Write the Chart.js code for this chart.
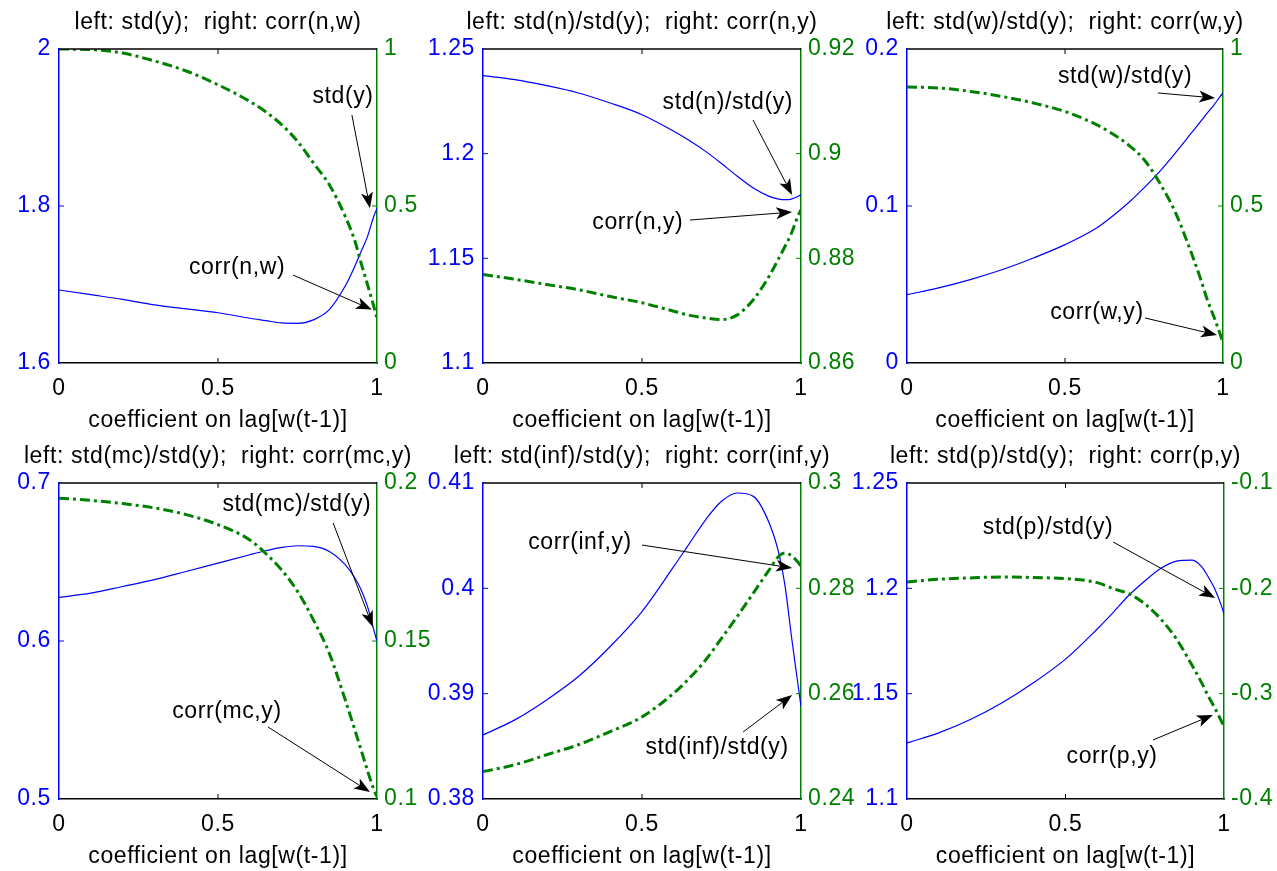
<!DOCTYPE html>
<html>
<head>
<meta charset="utf-8">
<script src="https://cdn.jsdelivr.net/npm/chart.js@4.4.0/dist/chart.umd.min.js"></script>
<style>
  body { margin: 0; background: #fff; }
  #wrap { position: relative; width: 1277px; height: 871px; }
  #wrap canvas { position: absolute; left: 0; top: 0; }
</style>
</head>
<body>
<div id="wrap"></div>
<script>
// coefficient on lag[w(t-1)]
const xs = [0, 0.1, 0.2, 0.3, 0.4, 0.5, 0.6, 0.65, 0.7, 0.75, 0.8, 0.85, 0.9, 0.93, 0.95, 0.97, 0.99, 1];
const xTicks = [0, 0.5, 1];

const stdY      = [1.693, 1.687, 1.681, 1.674, 1.669, 1.664, 1.657, 1.654, 1.651, 1.6505, 1.655, 1.668, 1.698, 1.723, 1.742, 1.761, 1.787, 1.797];
const corrNW    = [1.0, 0.998, 0.987, 0.962, 0.930, 0.886, 0.833, 0.800, 0.759, 0.706, 0.637, 0.568, 0.467, 0.390, 0.318, 0.250, 0.180, 0.143];
const stdNrel   = [1.2373, 1.2354, 1.2325, 1.229, 1.2242, 1.2186, 1.2107, 1.2062, 1.2011, 1.1953, 1.1892, 1.1836, 1.1796, 1.1783, 1.178, 1.1783, 1.1795, 1.1804];
const corrNY    = [0.8769, 0.8760, 0.8750, 0.8740, 0.8727, 0.8715, 0.8699, 0.8691, 0.8686, 0.8683, 0.8692, 0.8721, 0.8766, 0.8800, 0.8823, 0.8848, 0.8880, 0.8893];
const stdWrel   = [0.0435, 0.0478, 0.0531, 0.0594, 0.0669, 0.0754, 0.0860, 0.0935, 0.1019, 0.1115, 0.1221, 0.1340, 0.1465, 0.1540, 0.1592, 0.1640, 0.1695, 0.172];
const corrWY    = [0.879, 0.876, 0.865, 0.849, 0.828, 0.801, 0.759, 0.730, 0.695, 0.648, 0.573, 0.478, 0.350, 0.265, 0.202, 0.150, 0.095, 0.064];
const stdMCrel  = [0.6276, 0.6303, 0.6345, 0.6388, 0.6440, 0.6493, 0.6546, 0.6571, 0.6592, 0.6603, 0.6599, 0.6567, 0.6483, 0.6400, 0.6324, 0.6219, 0.6070, 0.5997];
const corrMCY   = [0.1952, 0.1945, 0.1935, 0.1921, 0.1900, 0.1868, 0.1820, 0.1777, 0.1725, 0.1657, 0.1567, 0.1461, 0.1314, 0.1220, 0.1155, 0.1090, 0.1030, 0.1007];
const stdINFrel = [0.38608, 0.38751, 0.38941, 0.39163, 0.39448, 0.3978, 0.40208, 0.4043, 0.40651, 0.40826, 0.40905, 0.40873, 0.4062, 0.40335, 0.40018, 0.39543, 0.39099, 0.38878];
const corrINFY  = [0.2452, 0.2465, 0.2484, 0.2503, 0.2528, 0.2556, 0.2601, 0.2630, 0.2664, 0.2705, 0.2747, 0.2791, 0.2835, 0.2861, 0.2867, 0.2862, 0.2850, 0.2842];
const stdPrel   = [1.1266, 1.1314, 1.1377, 1.1457, 1.1553, 1.1664, 1.1807, 1.1885, 1.1967, 1.2035, 1.2094, 1.2129, 1.2134, 1.2102, 1.2055, 1.2000, 1.1925, 1.1879];
const corrPY    = [-0.1939, -0.1914, -0.1901, -0.1892, -0.1898, -0.1908, -0.1946, -0.2003, -0.2051, -0.2147, -0.2290, -0.2481, -0.2736, -0.2900, -0.3022, -0.3130, -0.3250, -0.3309];

const BLUE = "#0000ff";
const GREEN = "#008000";
const FONT = "Liberation Sans, Arial, sans-serif";
const FS = 23;

Chart.defaults.font.family = FONT;
Chart.defaults.font.size = FS;

// plot boxes [left, right, top, bottom] in page pixels
const panels = [
  { title: "left: std(y);  right: corr(n,w)", left: stdY, right: corrNW,
    lTicks: [1.6, 1.8, 2], rTicks: [0, 0.5, 1], box: [59, 377, 49, 363],
    notes: [
      { text: "std(y)", at: [0.893, 1.939], from: [0.921, 1.916], to: [0.978, 1.797] },
      { text: "corr(n,w)", at: [0.560, 1.721], from: [0.736, 1.712], to: [0.984, 1.668] },
    ] },
  { title: "left: std(n)/std(y);  right: corr(n,y)", left: stdNrel, right: corrNY,
    lTicks: [1.1, 1.15, 1.2, 1.25], rTicks: [0.86, 0.88, 0.9, 0.92], box: [483, 801, 49, 363],
    notes: [
      { text: "std(n)/std(y)", at: [0.770, 1.2242], from: [0.849, 1.2161], to: [0.972, 1.1803] },
      { text: "corr(n,y)", at: [0.487, 1.1669], from: [0.651, 1.1683], to: [0.972, 1.1721] },
    ] },
  { title: "left: std(w)/std(y);  right: corr(w,y)", left: stdWrel, right: corrWY,
    lTicks: [0, 0.1, 0.2], rTicks: [0, 0.5, 1], box: [907, 1223, 49, 363],
    notes: [
      { text: "std(w)/std(y)", at: [0.690, 0.1822], from: [0.794, 0.1720], to: [0.975, 0.1688] },
      { text: "corr(w,y)", at: [0.601, 0.0318], from: [0.753, 0.0287], to: [0.981, 0.0178] },
    ] },
  { title: "left: std(mc)/std(y);  right: corr(mc,y)", left: stdMCrel, right: corrMCY,
    lTicks: [0.5, 0.6, 0.7], rTicks: [0.1, 0.15, 0.2], box: [59, 377, 483, 799],
    notes: [
      { text: "std(mc)/std(y)", at: [0.748, 0.6861], from: [0.862, 0.6747], to: [0.987, 0.6089] },
      { text: "corr(mc,y)", at: [0.528, 0.5551], from: [0.657, 0.5456], to: [0.978, 0.5044] },
    ] },
  { title: "left: std(inf)/std(y);  right: corr(inf,y)", left: stdINFrel, right: corrINFY,
    lTicks: [0.38, 0.39, 0.4, 0.41], rTicks: [0.24, 0.26, 0.28, 0.3], box: [483, 801, 483, 799],
    notes: [
      { text: "corr(inf,y)", at: [0.305, 0.4043], from: [0.5, 0.40411], to: [0.972, 0.40193] },
      { text: "std(inf)/std(y)", at: [0.736, 0.38484], from: [0.818, 0.38636], to: [0.972, 0.38987] },
    ] },
  { title: "left: std(p)/std(y);  right: corr(p,y)", left: stdPrel, right: corrPY,
    lTicks: [1.1, 1.15, 1.2, 1.25], rTicks: [-0.4, -0.3, -0.2, -0.1], box: [907, 1224, 483, 799],
    notes: [
      { text: "std(p)/std(y)", at: [0.445, 1.2286], from: [0.650, 1.2220], to: [0.972, 1.1954] },
      { text: "corr(p,y)", at: [0.647, 1.1199], from: [0.776, 1.128], to: [0.965, 1.1399] },
    ] },
];

const W = 1277, H = 871, AXW = 60, XAH = 72;

function fmt(v) {
  return String(+v.toFixed(4));
}

function drawArrow(ctx, x1, y1, x2, y2) {
  const a = Math.atan2(y2 - y1, x2 - x1);
  const hl = 16, hw = 6;
  const c = Math.cos(a), s = Math.sin(a);
  ctx.beginPath();
  ctx.moveTo(x1, y1);
  ctx.lineTo(x2 - hl * 0.7 * c, y2 - hl * 0.7 * s);
  ctx.stroke();
  ctx.beginPath();
  ctx.moveTo(x2, y2);
  ctx.lineTo(x2 - hl * c + hw * s, y2 - hl * s - hw * c);
  ctx.lineTo(x2 - hl * 0.75 * c, y2 - hl * 0.75 * s);
  ctx.lineTo(x2 - hl * c - hw * s, y2 - hl * s + hw * c);
  ctx.closePath();
  ctx.fill();
}

// box top line, inward ticks, title and arrow notes
const framePlugin = {
  id: "frame",
  beforeDraw(chart) {
    // the reference text is set a little looser than Liberation Sans
    chart.ctx.letterSpacing = "0.6px";
  },
  afterDraw(chart, args, opts) {
    const { ctx, chartArea: a, scales } = chart;
    const p = opts.panel;
    ctx.save();
    ctx.lineWidth = 1.5;
    ctx.strokeStyle = "#000";
    ctx.beginPath();
    ctx.moveTo(a.left, a.top);
    ctx.lineTo(a.right, a.top);
    ctx.stroke();

    const tl = 5;
    ctx.lineWidth = 1;
    xTicks.slice(1, -1).forEach(v => {
      const x = scales.x.getPixelForValue(v);
      ctx.beginPath();
      ctx.moveTo(x, a.bottom); ctx.lineTo(x, a.bottom - tl);
      ctx.moveTo(x, a.top); ctx.lineTo(x, a.top + tl);
      ctx.stroke();
    });
    ctx.strokeStyle = BLUE;
    p.lTicks.slice(1, -1).forEach(v => {
      const y = scales.yL.getPixelForValue(v);
      ctx.beginPath(); ctx.moveTo(a.left, y); ctx.lineTo(a.left + tl, y); ctx.stroke();
    });
    ctx.strokeStyle = GREEN;
    p.rTicks.slice(1, -1).forEach(v => {
      const y = scales.yR.getPixelForValue(v);
      ctx.beginPath(); ctx.moveTo(a.right, y); ctx.lineTo(a.right - tl, y); ctx.stroke();
    });

    ctx.fillStyle = "#000";
    ctx.font = FS + "px " + FONT;
    ctx.textAlign = "center";
    ctx.textBaseline = "middle";
    ctx.fillText(p.title, (a.left + a.right) / 2, a.top - 26);

    ctx.strokeStyle = "#000";
    ctx.lineWidth = 1;
    p.notes.forEach(n => {
      const px = v => scales.x.getPixelForValue(v);
      const py = v => scales.yL.getPixelForValue(v);
      ctx.fillText(n.text, px(n.at[0]), py(n.at[1]));
      drawArrow(ctx, px(n.from[0]), py(n.from[1]), px(n.to[0]), py(n.to[1]));
    });
    ctx.restore();
  },
};

const wrap = document.getElementById("wrap");
panels.forEach(p => {
  const cv = document.createElement("canvas");
  cv.width = W;
  cv.height = H;
  wrap.appendChild(cv);
  const [L, R, T, B] = p.box;
  new Chart(cv.getContext("2d"), {
    type: "line",
    data: {
      datasets: [
        {
          data: xs.map((x, i) => ({ x: x, y: p.right[i] })),
          yAxisID: "yR",
          borderColor: GREEN,
          borderWidth: 3,
          borderDash: [10, 4, 3, 4],
          pointRadius: 0,
          cubicInterpolationMode: "monotone",
        },
        {
          data: xs.map((x, i) => ({ x: x, y: p.left[i] })),
          yAxisID: "yL",
          borderColor: BLUE,
          borderWidth: 1.2,
          pointRadius: 0,
          cubicInterpolationMode: "monotone",
        },
      ],
    },
    options: {
      responsive: false,
      animation: false,
      events: [],
      layout: { padding: { left: L - AXW, right: W - R - AXW, top: T, bottom: H - B - XAH } },
      plugins: { legend: { display: false }, tooltip: { enabled: false }, frame: { panel: p } },
      scales: {
        x: {
          type: "linear", position: "bottom", min: 0, max: 1,
          afterBuildTicks: s => { s.ticks = xTicks.map(v => ({ value: v })); },
          afterFit: s => { s.height = XAH; },
          grid: { display: false, drawTicks: false },
          border: { color: "#000", width: 1.5 },
          ticks: { color: "#000", padding: 12, maxRotation: 0, autoSkip: false, callback: v => fmt(v) },
          title: { display: true, text: "coefficient on lag[w(t-1)]", color: "#000",
                   font: { lineHeight: 1 }, padding: { top: 0, bottom: 3 } },
        },
        yL: {
          type: "linear", position: "left", min: p.lTicks[0], max: p.lTicks[p.lTicks.length - 1],
          afterBuildTicks: s => { s.ticks = p.lTicks.map(v => ({ value: v })); },
          afterFit: s => { s.width = AXW; },
          grid: { display: false, drawTicks: false },
          border: { color: BLUE, width: 1.5 },
          ticks: { color: BLUE, padding: 8, autoSkip: false, callback: v => fmt(v) },
        },
        yR: {
          type: "linear", position: "right", min: p.rTicks[0], max: p.rTicks[p.rTicks.length - 1],
          afterBuildTicks: s => { s.ticks = p.rTicks.map(v => ({ value: v })); },
          afterFit: s => { s.width = AXW; },
          grid: { display: false, drawTicks: false },
          border: { color: GREEN, width: 1.5 },
          ticks: { color: GREEN, padding: 7, autoSkip: false, callback: v => fmt(v) },
        },
      },
    },
    plugins: [framePlugin],
  });
});
</script>
</body>
</html>
